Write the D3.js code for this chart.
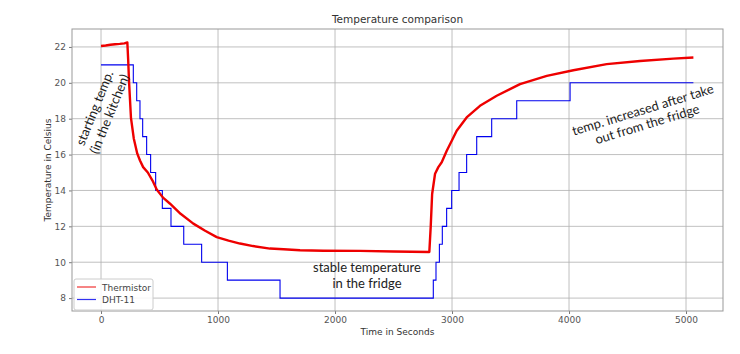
<!doctype html>
<html>
  <head>
    <meta charset="utf-8">
    <title>Temperature comparison</title>
    <script src="https://cdnjs.cloudflare.com/ajax/libs/d3/7.8.5/d3.min.js"></script>
    <style>
      body { margin: 0; background: #fff; }
      svg { display: block; }
      .tick text { fill: #555; }
    </style>
  </head>
  <body>
    <div id="chart"></div>
    <script>
      // thermistor readings (seconds, celsius)
      const thermTime = [0, 40, 80, 120, 160, 200, 225, 232, 240, 256, 280, 310, 333, 360, 400, 440, 476, 530, 590, 680, 789, 890, 989, 1090, 1188, 1300, 1444, 1560, 1701, 1900, 2214, 2500, 2806, 2818, 2830, 2855, 2883, 2912, 2954, 3000, 3040, 3125, 3239, 3382, 3581, 3810, 4037, 4322, 4607, 4892, 5063];
      const thermTemp = [22.05, 22.08, 22.12, 22.15, 22.17, 22.2, 22.25, 21.3, 20.0, 18.05, 16.9, 16.05, 15.67, 15.3, 15.0, 14.55, 14.05, 13.6, 13.26, 12.7, 12.15, 11.75, 11.4, 11.2, 11.04, 10.9, 10.76, 10.72, 10.67, 10.64, 10.63, 10.6, 10.57, 12.0, 13.8, 14.93, 15.3, 15.57, 16.2, 16.8, 17.33, 18.07, 18.72, 19.28, 19.93, 20.39, 20.7, 21.04, 21.22, 21.35, 21.41];

      // DHT-11 readings: each level holds until the next time in the list
      const dhtTime = [0, 276, 305, 333, 356, 390, 424, 467, 524, 598, 707, 860, 1080, 1530, 2840, 2863, 2892, 2917, 2954, 2997, 3060, 3125, 3211, 3339, 3553, 4009, 5063];
      const dhtTemp = [21, 20, 19, 18, 17, 16, 15, 14, 13, 12, 11, 10, 9, 8, 9, 10, 11, 12, 13, 14, 15, 16, 17, 18, 19, 20, 20];

      const xTicks = [0, 1000, 2000, 3000, 4000, 5000];
      const yTicks = [8, 10, 12, 14, 16, 18, 20, 22];
      const seriesNames = ['Thermistor', 'DHT-11'];

      const width = 740, height = 354;
      const margin = { top: 29, right: 17, bottom: 43, left: 72 };

      const svg = d3.select('#chart').append('svg')
        .attr('width', width)
        .attr('height', height)
        .style('font-family', 'DejaVu Sans, sans-serif');

      const x = d3.scaleLinear().domain([-248, 5316]).range([margin.left, width - margin.right]);
      const y = d3.scaleLinear().domain([7.28, 23.0]).range([height - margin.bottom, margin.top]);

      // grid
      svg.append('g').selectAll('line').data(xTicks).join('line')
        .attr('x1', d => x(d)).attr('x2', d => x(d))
        .attr('y1', margin.top).attr('y2', height - margin.bottom)
        .attr('stroke', '#b0b0b0').attr('stroke-width', 0.8);
      svg.append('g').selectAll('line').data(yTicks).join('line')
        .attr('x1', margin.left).attr('x2', width - margin.right)
        .attr('y1', d => y(d)).attr('y2', d => y(d))
        .attr('stroke', '#b0b0b0').attr('stroke-width', 0.8);

      // axes
      const xAxis = svg.append('g')
        .attr('transform', `translate(0,${height - margin.bottom})`)
        .call(d3.axisBottom(x).tickValues(xTicks).tickSize(3).tickPadding(3).tickFormat(d3.format('d')));
      const yAxis = svg.append('g')
        .attr('transform', `translate(${margin.left},0)`)
        .call(d3.axisLeft(y).tickValues(yTicks).tickSize(3).tickPadding(3));
      [xAxis, yAxis].forEach(a => {
        a.select('.domain').remove();
        a.selectAll('.tick line').attr('stroke', '#777');
        a.selectAll('.tick text').attr('font-size', 9).attr('font-family', 'DejaVu Sans, sans-serif');
      });

      // frame
      svg.append('rect')
        .attr('x', margin.left).attr('y', margin.top)
        .attr('width', width - margin.left - margin.right)
        .attr('height', height - margin.top - margin.bottom)
        .attr('fill', 'none').attr('stroke', '#999').attr('stroke-width', 1);

      // series
      const therm = thermTime.map((t, i) => [t, thermTemp[i]]);
      const dht = dhtTime.map((t, i) => [t, dhtTemp[i]]);

      svg.append('path')
        .datum(dht)
        .attr('fill', 'none').attr('stroke', '#0000ee').attr('stroke-width', 1.1)
        .attr('d', d3.line().x(d => x(d[0])).y(d => y(d[1])).curve(d3.curveStepAfter));

      svg.append('path')
        .datum(therm)
        .attr('fill', 'none').attr('stroke', '#ee0000').attr('stroke-width', 2.4)
        .attr('stroke-linejoin', 'round')
        .attr('d', d3.line().x(d => x(d[0])).y(d => y(d[1])));

      // title and axis labels
      svg.append('text')
        .attr('x', (margin.left + width - margin.right) / 2).attr('y', 23)
        .attr('text-anchor', 'middle').attr('font-size', 10.5).attr('fill', '#333')
        .text('Temperature comparison');
      svg.append('text')
        .attr('x', (margin.left + width - margin.right) / 2).attr('y', 335)
        .attr('text-anchor', 'middle').attr('font-size', 9).attr('fill', '#333')
        .text('Time in Seconds');
      svg.append('text')
        .attr('transform', `translate(51,${(margin.top + height - margin.bottom) / 2}) rotate(-90)`)
        .attr('text-anchor', 'middle').attr('font-size', 9).attr('fill', '#333')
        .text('Temperature in Celsius');

      // legend
      const legend = svg.append('g').attr('transform', 'translate(74,279)');
      legend.append('rect')
        .attr('width', 79).attr('height', 31).attr('rx', 2)
        .attr('fill', 'rgba(255,255,255,0.85)').attr('stroke', '#ccc');
      const colors = ['#ee0000', '#0000ee'];
      seriesNames.forEach((name, i) => {
        legend.append('line')
          .attr('x1', 3).attr('x2', 22).attr('y1', 8 + i * 12.5).attr('y2', 8 + i * 12.5)
          .attr('stroke', colors[i]).attr('stroke-width', 1.2).attr('opacity', 0.8);
        legend.append('text')
          .attr('x', 28).attr('y', 11.5 + i * 12.5)
          .attr('font-size', 9).attr('fill', '#444')
          .text(name);
      });

      // hand-written annotations
      const note = svg.append('g')
        .style('font-family', 'Lato, sans-serif')
        .attr('font-size', 13).attr('fill', '#222');

      const n1 = note.append('text')
        .attr('transform', 'translate(102,111) rotate(-68)')
        .attr('text-anchor', 'middle');
      n1.append('tspan').attr('x', 0).attr('y', -3.5).text('starting temp.');
      n1.append('tspan').attr('x', 0).attr('y', 12.5).text('(in the kitchen)');

      const n2 = note.append('text')
        .attr('text-anchor', 'middle');
      n2.append('tspan').attr('x', 367).attr('y', 272).text('stable temperature');
      n2.append('tspan').attr('x', 367).attr('y', 288).text('in the fridge');

      const n3 = note.append('text')
        .attr('transform', 'translate(645,117) rotate(-17)')
        .attr('text-anchor', 'middle');
      n3.append('tspan').attr('x', 0).attr('y', -3).text('temp. increased after take');
      n3.append('tspan').attr('x', 0).attr('y', 12).text('out from the fridge');
    </script>
  </body>
</html>
